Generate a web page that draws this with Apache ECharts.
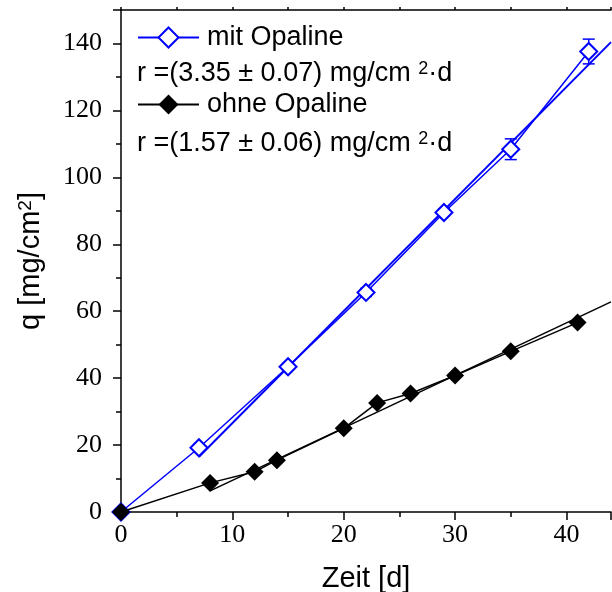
<!DOCTYPE html>
<html>
<head>
<meta charset="utf-8">
<script src="https://cdn.jsdelivr.net/npm/echarts@6/dist/echarts.min.js"></script>
<style>
  html, body { margin: 0; padding: 0; background: #fff; }
  #chart { width: 612px; height: 592px; }
</style>
</head>
<body>
<div id="chart"></div>
<script>
// Mass gain q over time, with and without Opaline
const daysMit = [0, 7, 15, 22, 29, 35, 42];
const qMit = [0, 19.2, 43.4, 65.6, 89.5, 108.4, 137.6];
const errMit = [0, 1.0, 1.0, 1.2, 1.0, 3.1, 3.7];

const daysOhne = [0, 8, 12, 14, 20, 23, 26, 30, 35, 41];
const qOhne = [0, 8.7, 12.0, 15.5, 25.0, 32.6, 35.4, 40.8, 48.0, 56.6];

// Linear fits (slopes 3.35 and 1.57 mg/cm²·d), drawn from the first sample to the end of the axis
const fitMitDays = [7, 44];
const fitMit = [16.5, 140.4];
const fitOhneDays = [8, 44];
const fitOhne = [6.3, 62.8];

const xTicks = [0, 10, 20, 30, 40];
const yTicks = [0, 20, 40, 60, 80, 100, 120, 140];

const BLUE = '#0000ff';
const BLACK = '#000000';
const SANS = '"Liberation Sans", Arial, sans-serif';
const SERIF = '"Liberation Serif", "Times New Roman", serif';

const pairs = (xs, ys) => xs.map((x, i) => [x, ys[i]]);
const errData = daysMit.map((x, i) => [x, qMit[i] - errMit[i], qMit[i] + errMit[i]]);

const chart = echarts.init(document.getElementById('chart'), null, { renderer: 'canvas' });

const supRich = {
  sup: { fontSize: 18, fontFamily: SANS, color: '#000', verticalAlign: 'top', lineHeight: 12 }
};

chart.setOption({
  animation: false,
  backgroundColor: '#fff',
  grid: { left: 121, right: 1, top: 10, bottom: 80, containLabel: false, outerBoundsMode: 'none' },
  legend: {
    data: ['mit Opaline', 'ohne Opaline'],
    orient: 'vertical',
    left: 137,
    top: 24,
    padding: 0,
    itemWidth: 61,
    itemHeight: 25,
    itemGap: 40,
    selectedMode: false,
    textStyle: { fontFamily: SANS, fontSize: 27, color: '#000', lineHeight: 27, padding: [0, 0, 0, 3] }
  },
  graphic: [
    {
      type: 'text', left: 137, top: 60,
      style: {
        text: 'r =(3.35 ± 0.07) mg/cm {sup|2}·d',
        font: '27px ' + SANS, fill: '#000',
        rich: supRich
      }
    },
    {
      type: 'text', left: 137, top: 130,
      style: {
        text: 'r =(1.57 ± 0.06) mg/cm {sup|2}·d',
        font: '27px ' + SANS, fill: '#000',
        rich: supRich
      }
    }
  ],
  xAxis: [
    {
      type: 'value', min: 0, max: 44, interval: 10,
      position: 'bottom',
      name: 'Zeit [d]', nameLocation: 'middle', nameGap: 52,
      nameTextStyle: { fontFamily: SANS, fontSize: 29, color: '#000' },
      axisLine: { lineStyle: { color: '#000', width: 1.5 } },
      axisTick: { inside: false, length: 8, lineStyle: { color: '#000', width: 1.5 } },
      minorTick: { show: true, splitNumber: 2, length: 5, lineStyle: { color: '#000', width: 1.5 } },
      splitLine: { show: false },
      axisLabel: {
        fontFamily: SERIF, fontSize: 26, color: '#000', margin: 10,
        showMaxLabel: false,
        formatter: v => (xTicks.includes(v) ? String(v) : '')
      }
    },
    {
      type: 'value', min: 0, max: 44, interval: 10,
      position: 'top',
      axisLine: { lineStyle: { color: '#000', width: 1.5 } },
      axisTick: { inside: false, length: 3, lineStyle: { color: '#000', width: 1.5 } },
      minorTick: { show: true, splitNumber: 2, length: 3, lineStyle: { color: '#000', width: 1.5 } },
      splitLine: { show: false },
      axisLabel: { show: false }
    }
  ],
  yAxis: {
    type: 'value', min: 0, max: 150, interval: 20,
    name: 'q [mg/cm{sup|2}]', nameLocation: 'middle', nameGap: 76, nameRotate: 90,
    nameTextStyle: {
      fontFamily: SANS, fontSize: 29, color: '#000',
      rich: { sup: { fontSize: 19, fontFamily: SANS, color: '#000', verticalAlign: 'top', lineHeight: 14 } }
    },
    axisLine: { lineStyle: { color: '#000', width: 1.5 } },
    axisTick: { inside: false, length: 8, lineStyle: { color: '#000', width: 1.5 } },
    minorTick: { show: true, splitNumber: 2, length: 5, lineStyle: { color: '#000', width: 1.5 } },
    splitLine: { show: false },
    axisLabel: {
      fontFamily: SERIF, fontSize: 26, color: '#000', margin: 19,
      showMaxLabel: false,
      formatter: v => (yTicks.includes(v) ? String(v) : '')
    }
  },
  series: [
    {
      name: 'fit mit', type: 'line', data: pairs(fitMitDays, fitMit),
      symbol: 'none', lineStyle: { color: BLUE, width: 2 }, silent: true
    },
    {
      name: 'fit ohne', type: 'line', data: pairs(fitOhneDays, fitOhne),
      symbol: 'none', lineStyle: { color: BLACK, width: 1.5 }, silent: true
    },
    {
      name: 'Fehler', type: 'custom', data: errData,
      renderItem: (params, api) => {
        const x = api.value(0);
        const lo = api.coord([x, api.value(1)]);
        const hi = api.coord([x, api.value(2)]);
        const w = 6;
        const style = { stroke: BLUE, lineWidth: 1.5 };
        return {
          type: 'group',
          children: [
            { type: 'line', shape: { x1: lo[0], y1: lo[1], x2: hi[0], y2: hi[1] }, style },
            { type: 'line', shape: { x1: lo[0] - w, y1: lo[1], x2: lo[0] + w, y2: lo[1] }, style },
            { type: 'line', shape: { x1: hi[0] - w, y1: hi[1], x2: hi[0] + w, y2: hi[1] }, style }
          ]
        };
      },
      z: 3
    },
    {
      name: 'mit Opaline', type: 'line', data: pairs(daysMit, qMit),
      symbol: 'emptyDiamond', symbolSize: [17, 17],
      color: BLUE,
      itemStyle: { color: BLUE, borderColor: BLUE, borderWidth: 2 },
      lineStyle: { color: BLUE, width: 1.5 },
      z: 4
    },
    {
      name: 'ohne Opaline', type: 'line', data: pairs(daysOhne, qOhne),
      symbol: 'diamond', symbolSize: [18, 18],
      color: BLACK,
      itemStyle: { color: BLACK },
      lineStyle: { color: BLACK, width: 1.5 },
      z: 5
    }
  ]
});
</script>
</body>
</html>
